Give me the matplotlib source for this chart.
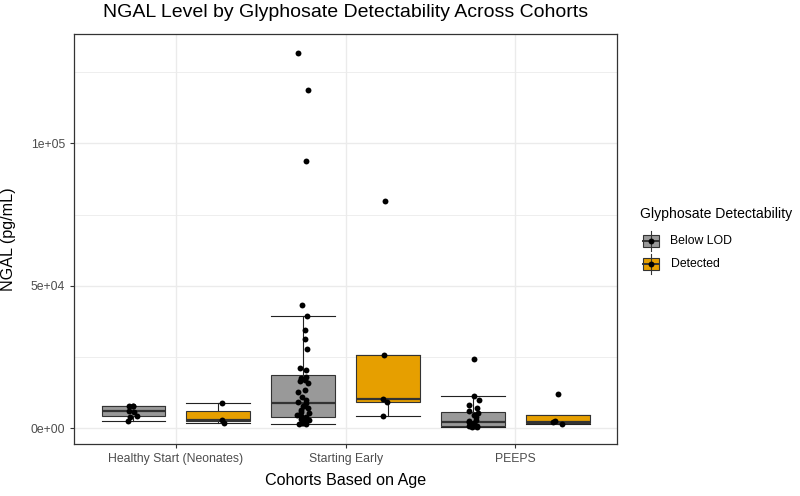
import matplotlib.pyplot as plt
import numpy as np
from matplotlib.patches import Rectangle

plt.rcParams['font.family'] = ['Liberation Sans', 'DejaVu Sans']

# data (pg/mL)
cohorts = ["Healthy Start (Neonates)", "Starting Early", "PEEPS"]
groups = ["Below LOD", "Detected"]

hs_below = [2600, 4000, 4300, 5900, 6000, 7700, 7800, 7900]
hs_detected = [1960, 2900, 9000]
se_below = [1500, 1600, 1750, 2000, 2300, 2600, 2900, 3100, 3400, 3800,
            4060, 4300, 4700, 5250, 5800, 6400, 7000, 7700, 8000, 8800,
            9300, 9900, 11000, 12800, 13400, 15750, 16500, 17000, 17500, 18000,
            20400, 21000, 27750, 31500, 34650, 39400, 43300, 93900, 118750, 131700]
se_detected = [4300, 9100, 10150, 25900, 79900]
peeps_below = [500, 600, 650, 700, 800, 850, 900, 1000, 1150, 1500, 1750, 2100,
               2500, 3000, 4060, 4650, 5500, 6200, 7000, 8150, 9900, 11300, 24250]
peeps_detected = [1500, 2100, 2400, 11900]

below_lod = [hs_below, se_below, peeps_below]
detected = [hs_detected, se_detected, peeps_detected]

yticks = [0, 50000, 100000]
ytick_labels = ["0e+00", "5e+04", "1e+05"]
yminor = [25000, 75000, 125000]

colors = {"Below LOD": "#999999", "Detected": "#E69F00"}
W, H = 800, 496
DODGE = 0.25
BW = 0.375

fig = plt.figure(figsize=(W / 100, H / 100), dpi=100)
ax = fig.add_axes([74 / W, 1 - 444.3 / H, (617.3 - 74) / W, (444.3 - 34.3) / H])

xpos = np.arange(1, len(cohorts) + 1)
rng = np.random.default_rng(3)

for k, (grp, series) in enumerate(zip(groups, [below_lod, detected])):
    pos = xpos + (-DODGE if k == 0 else DODGE)
    ax.boxplot(series, positions=pos, widths=BW, capwidths=BW,
               patch_artist=True, showfliers=False, manage_ticks=False,
               boxprops=dict(facecolor=colors[grp], edgecolor='#333333', lw=0.8, zorder=2),
               medianprops=dict(color='#333333', lw=1.6, zorder=2.5),
               whiskerprops=dict(color='#222222', lw=0.8, zorder=1.5),
               capprops=dict(color='#222222', lw=0.8, zorder=1.5))
    # jittered points on top
    for p, vals in zip(pos, series):
        jit = rng.uniform(-0.035, 0.035, len(vals))
        ax.scatter(p + jit, vals, s=18, color='black', lw=0, zorder=3)

ax.set_xlim(0.4, 3.6)
ax.set_ylim(-5600, 138250)
ax.set_xticks(xpos)
ax.set_xticklabels(cohorts)
ax.set_yticks(yticks)
ax.set_yticklabels(ytick_labels)
ax.set_yticks(yminor, minor=True)
ax.set_axisbelow(True)
ax.grid(which='major', color='#EBEBEB', lw=1.0)
ax.grid(which='minor', axis='y', color='#EBEBEB', lw=0.6)
ax.tick_params(which='major', length=3, width=0.8, color='#333333',
               labelcolor='#4D4D4D', labelsize=8.8, pad=3.5)
ax.tick_params(which='minor', length=0)
for sp in ax.spines.values():
    sp.set_color('#333333')
    sp.set_linewidth(0.9)

fig.text(345.5 / W, 1 - 12.5 / H, "NGAL Level by Glyphosate Detectability Across Cohorts",
         ha='center', va='center', size=14)
fig.text(345.5 / W, 1 - 481 / H, "Cohorts Based on Age", ha='center', va='center', size=11.6)
fig.text(9 / W, 1 - 239.3 / H, "NGAL (pg/mL)", ha='center', va='center', size=11.6, rotation=90)

# legend drawn by hand in pixel coordinates
lg = fig.add_axes([0, 0, 1, 1])
lg.set_xlim(0, W)
lg.set_ylim(H, 0)
lg.axis('off')
lg.text(640.5, 214, "Glyphosate Detectability", ha='left', va='center', size=10.1)
for i, grp in enumerate(groups):
    cy = 241 + i * 23
    lg.plot([651.3, 651.3], [cy - 10, cy + 10], color='#333333', lw=0.8)
    lg.add_patch(Rectangle((643.3, cy - 5.8), 16, 11.6, facecolor=colors[grp],
                           edgecolor='#333333', lw=0.8))
    lg.plot([643.3, 659.3], [cy, cy], color='#333333', lw=1.4)
    lg.scatter([651.3], [cy], s=18, color='black', lw=0, zorder=3)
    lg.text(670.5, cy, grp, ha='left', va='center', size=8.8)

fig.savefig("out.png", dpi=100)
